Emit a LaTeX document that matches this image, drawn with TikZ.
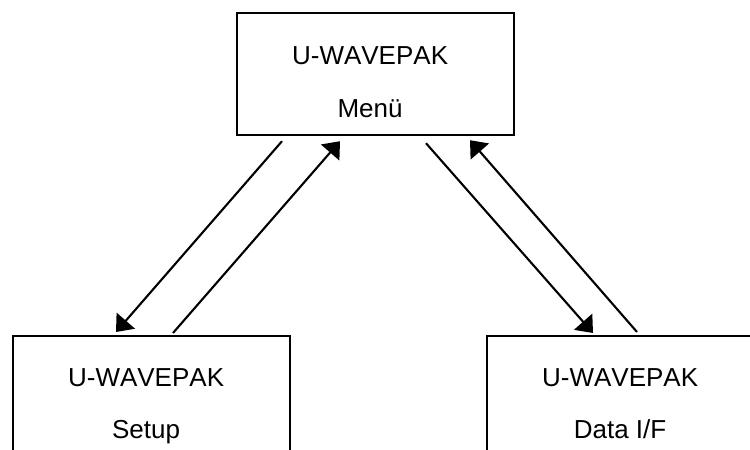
\documentclass[tikz,border=0pt]{standalone}
\usepackage{fontspec}
\setmainfont{Liberation Sans}[Kerning=Off]
\usetikzlibrary{arrows.meta}
\begin{document}
\begin{tikzpicture}[x=1pt,y=-1pt,
  box/.style={draw=black,line width=2.2pt,rectangle,minimum width=277pt,minimum height=122pt,inner sep=0pt,anchor=north west},
  lbl/.style={font=\fontsize{26}{30}\selectfont,inner sep=0pt,anchor=base},
  arr/.style={line width=2.1pt,-{Triangle[length=15pt,width=24pt]}}]
\useasboundingbox (0,0) rectangle (750,450);
\clip (0,0) rectangle (750,450);
\fill[white] (0,0) rectangle (750,450);
% boxes
\node[box] (menu) at (236,12) {};
\node[box] (setup) at (12,335) {};
\node[box] (data) at (486,335) {};
% labels
\node[lbl] (menu1) at ([xshift=-5.5pt,yshift=-52pt]menu.north) {U-WAVEPAK};
\node[lbl] (menu2) at ([xshift=-5.5pt,yshift=-105pt]menu.north) {Menü};
\node[lbl] (setup1) at ([xshift=-5.5pt,yshift=-51pt]setup.north) {U-WAVEPAK};
\node[lbl] (setup2) at ([xshift=-5.5pt,yshift=-103pt]setup.north) {Setup};
\node[lbl] (data1) at ([xshift=-5.5pt,yshift=-51pt]data.north) {U-WAVEPAK};
\node[lbl] (data2) at ([xshift=-5.5pt,yshift=-103pt]data.north) {Data I/F};
% connectors
\draw[arr] ([xshift=46pt,yshift=-5pt]menu.south west) -- ([xshift=104pt,yshift=3pt]setup.north west);
\draw[arr] ([xshift=161pt,yshift=2pt]setup.north west) -- ([xshift=104pt,yshift=-5pt]menu.south west);
\draw[arr] ([xshift=190pt,yshift=-7pt]menu.south west) -- ([xshift=107pt,yshift=2pt]data.north west);
\draw[arr] ([xshift=151pt,yshift=3pt]data.north west) -- ([xshift=234pt,yshift=-4pt]menu.south west);
\end{tikzpicture}
\end{document}
